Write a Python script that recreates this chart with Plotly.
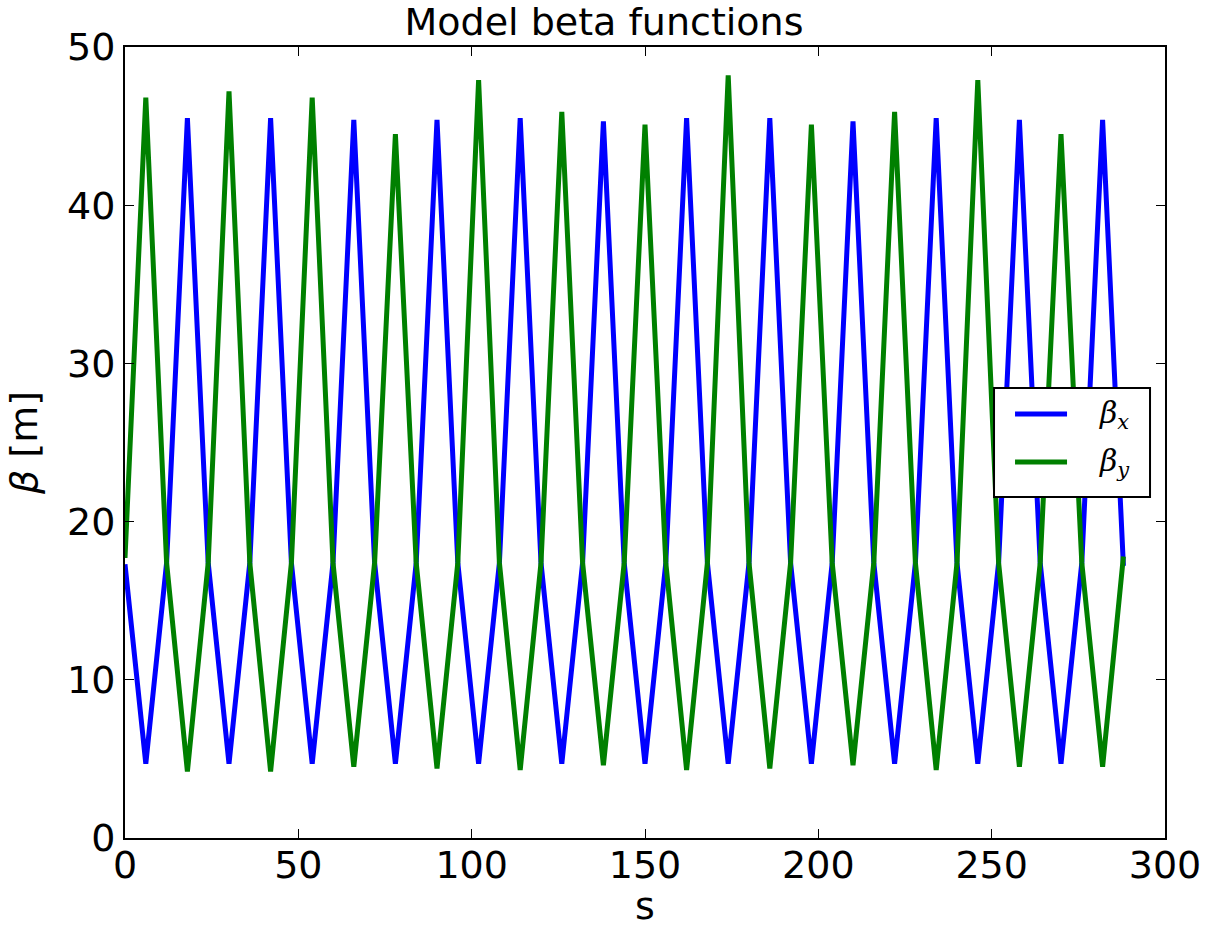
import plotly.graph_objects as go

# s positions (m): start, quad centres and cell midpoints, end
s = [0, 6, 12, 18, 24, 30, 36, 42, 48, 54, 60, 66, 72, 78, 84, 90, 96, 102,
     108, 114, 120, 126, 132, 138, 144, 150, 156, 162, 168, 174, 180, 186,
     192, 198, 204, 210, 216, 222, 228, 234, 240, 246, 252, 258, 264, 270,
     276, 282, 288]

beta_x = [17.3, 4.7, 17.4, 45.5, 17.4, 4.7, 17.4, 45.5, 17.4, 4.7, 17.4, 45.4,
          17.4, 4.7, 17.4, 45.4, 17.4, 4.7, 17.4, 45.5, 17.4, 4.7, 17.4, 45.3,
          17.4, 4.7, 17.4, 45.5, 17.4, 4.7, 17.4, 45.5, 17.4, 4.7, 17.4, 45.3,
          17.4, 4.7, 17.4, 45.5, 17.4, 4.7, 17.4, 45.4, 17.4, 4.7, 17.4, 45.4,
          17.2]

beta_y = [17.7, 46.8, 17.4, 4.2, 17.4, 47.2, 17.4, 4.2, 17.4, 46.8, 17.4, 4.5,
          17.4, 44.5, 17.4, 4.4, 17.4, 47.9, 17.4, 4.3, 17.4, 45.9, 17.4, 4.6,
          17.4, 45.1, 17.4, 4.3, 17.4, 48.2, 17.4, 4.4, 17.4, 45.1, 17.4, 4.6,
          17.4, 45.9, 17.4, 4.3, 17.4, 47.9, 17.4, 4.5, 17.4, 44.5, 17.4, 4.5,
          17.8]

legend_labels = ["<i>β</i><sub><i>x</i></sub>", "<i>β</i><sub><i>y</i></sub>"]
colors = ["#0000FF", "#008000"]

fig = go.Figure()
fig.add_trace(go.Scatter(x=s, y=beta_x, mode="lines", name="beta_x",
                         line=dict(color=colors[0], width=5), showlegend=False))
fig.add_trace(go.Scatter(x=s, y=beta_y, mode="lines", name="beta_y",
                         line=dict(color=colors[1], width=5), showlegend=False))

font_main = "DejaVu Sans"
axis_common = dict(showgrid=False, zeroline=False, showline=True, linecolor="black",
                   linewidth=2, mirror="allticks", ticks="inside", ticklen=9,
                   tickwidth=1.2, tickcolor="black", automargin=False,
                   tickfont=dict(family=font_main, size=38, color="black"))

fig.update_layout(
    width=1208, height=930,
    margin=dict(l=125, r=43, t=47, b=92),
    paper_bgcolor="white", plot_bgcolor="white",
    title=dict(text="Model beta functions", x=0.5, xanchor="center",
               y=1 - 22 / 930, yanchor="middle",
               font=dict(family=font_main, size=38, color="black")),
    xaxis=dict(range=[0, 300], tickvals=[0, 50, 100, 150, 200, 250, 300],
               ticklabelstandoff=-8,
               **axis_common),
    yaxis=dict(range=[0, 50], tickvals=[0, 10, 20, 30, 40, 50],
               title=dict(text="<i>β</i> [m]", font=dict(family=font_main, size=38, color="black"),
                          standoff=18),
               **axis_common),
    showlegend=False,
)

# x-axis title placed explicitly below tick labels
fig.add_annotation(xref="paper", yref="paper", x=0.5, y=-(929 - 838) / 791,
                   text="s", showarrow=False, xanchor="center", yanchor="bottom",
                   borderpad=0,
                   font=dict(family=font_main, size=38, color="black"))

# Legend box (manual, matplotlib style)
fig.add_shape(type="rect", xref="paper", yref="paper",
              x0=0.8356, x1=0.9856, y0=0.4311, y1=0.5689,
              line=dict(color="black", width=2), fillcolor="white", layer="above")
leg_y = [0.536, 0.4753]
for i in range(2):
    fig.add_shape(type="line", xref="paper", yref="paper",
                  x0=0.8558, x1=0.9058, y0=leg_y[i], y1=leg_y[i],
                  line=dict(color=colors[i], width=5), layer="above")
    fig.add_annotation(xref="paper", yref="paper", x=0.9345, y=leg_y[i],
                       text=legend_labels[i], showarrow=False,
                       xanchor="left", yanchor="middle",
                       font=dict(family="DejaVu Serif", size=30, color="black"))

fig.write_html("out.html")
